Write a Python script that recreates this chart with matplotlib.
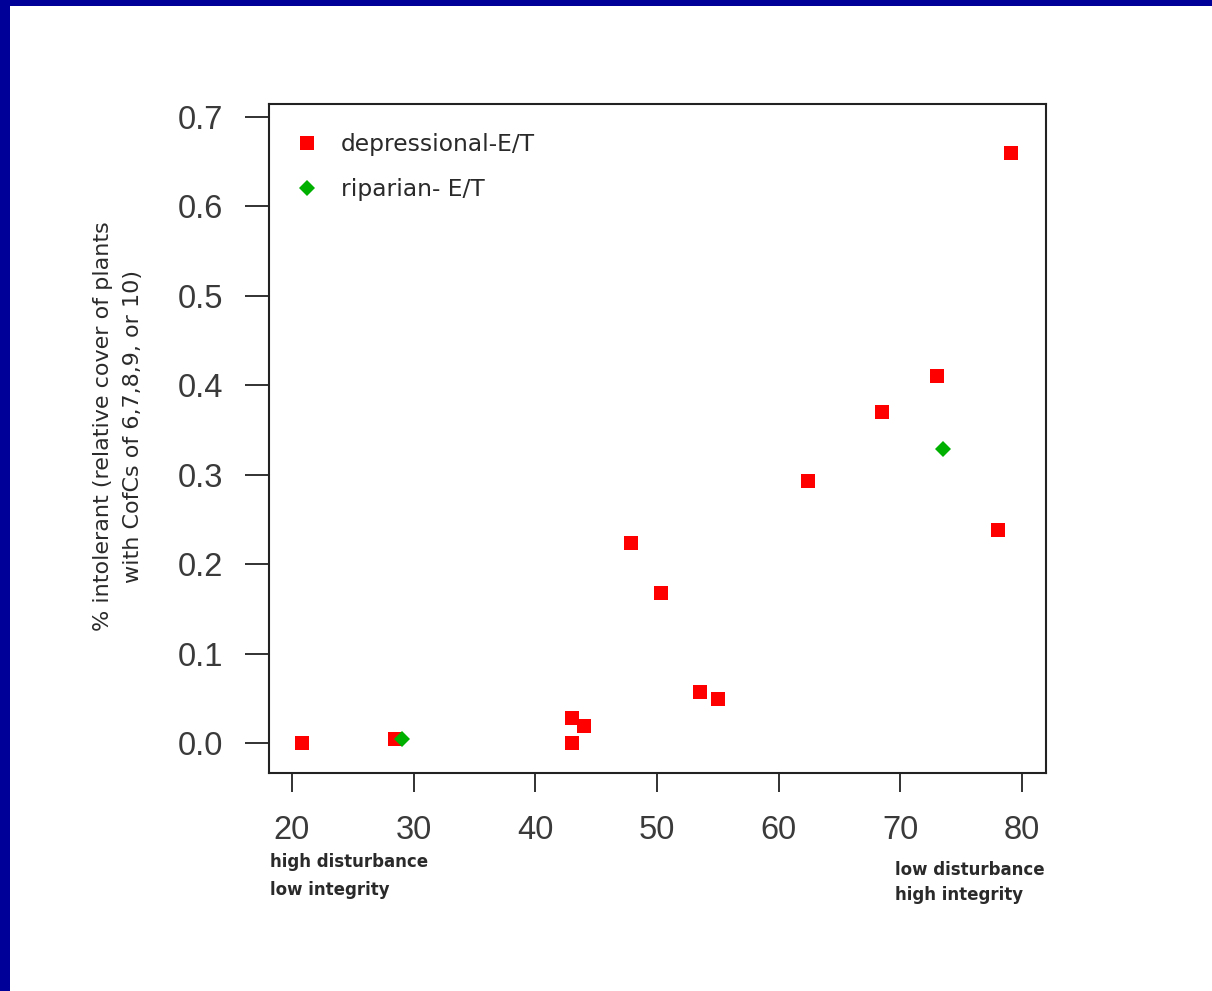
import matplotlib
matplotlib.use("Agg")
import matplotlib.pyplot as plt
from matplotlib.lines import Line2D
from matplotlib.patches import Rectangle

# Data
dep_x = [20.8, 28.5, 43.0, 43.0, 44.0, 47.9, 50.3, 53.5, 55.0, 62.4, 68.5, 73.0, 78.0, 79.1]
dep_y = [0.000, 0.005, 0.028, 0.000, 0.019, 0.224, 0.168, 0.057, 0.049, 0.293, 0.370, 0.410, 0.238, 0.660]
rip_x = [29.0, 73.5]
rip_y = [0.004, 0.329]
x_ticks = [20, 30, 40, 50, 60, 70, 80]
y_ticks = [0.0, 0.1, 0.2, 0.3, 0.4, 0.5, 0.6, 0.7]
y_ticklabels = ["0.0", "0.1", "0.2", "0.3", "0.4", "0.5", "0.6", "0.7"]
labels = ["depressional-E/T", "riparian- E/T"]
ylabel_text = "% intolerant (relative cover of plants\nwith CofCs of 6,7,8,9, or 10)"
left_note = ["high disturbance", "low integrity"]
right_note = ["low disturbance", "high integrity"]

plt.rcParams['font.family'] = ['Liberation Sans', 'DejaVu Sans']

W, H = 1212, 991
fig = plt.figure(figsize=(W / 100, H / 100), dpi=100)
fig.patch.set_facecolor('white')
# blue border top and left
fig.add_artist(Rectangle((0, 1 - 6 / H), 1, 6 / H, transform=fig.transFigure,
                         facecolor='#000099', edgecolor='none'))
fig.add_artist(Rectangle((0, 0), 10 / W, 1, transform=fig.transFigure,
                         facecolor='#000099', edgecolor='none'))

ax = fig.add_axes([269 / W, 1 - 773 / H, (1046 - 269) / W, (773 - 104) / H])
ax.plot(dep_x, dep_y, linestyle='none', marker='s', markersize=9.5,
        color='#ff0000', markeredgewidth=0)
ax.plot(rip_x, rip_y, linestyle='none', marker='D', markersize=8.3,
        color='#00b000', markeredgewidth=0)

ax.set_xlim(18.11, 81.97)
ax.set_ylim(-0.0335, 0.7145)
ax.set_xticks(x_ticks)
ax.set_yticks(y_ticks)
ax.set_yticklabels(y_ticklabels)
ax.tick_params(axis='x', length=14, width=1.3, pad=16, labelsize=23.5,
               colors='#222222', labelcolor='#3a3a3a')
ax.tick_params(axis='y', length=17, width=1.3, pad=16, labelsize=23.5,
               colors='#222222', labelcolor='#3a3a3a')
for sp in ax.spines.values():
    sp.set_linewidth(1.5)
    sp.set_color('#222222')

fig.text(118 / W, 1 - 426 / H, ylabel_text, rotation=90, ha='center', va='center',
         multialignment='center', fontsize=16, family='DejaVu Sans',
         linespacing=1.65, color='#2a2a2a')

handles = [Line2D([], [], linestyle='none', marker='s', markersize=9.5, color='#ff0000', markeredgewidth=0),
           Line2D([], [], linestyle='none', marker='D', markersize=8.3, color='#00b000', markeredgewidth=0)]
leg = ax.legend(handles, labels, loc='upper left', bbox_to_anchor=(0.013, 0.981), frameon=False,
                prop={'family': 'DejaVu Sans', 'size': 16.8}, handlelength=1.0,
                handletextpad=0.95, labelspacing=0.95, borderaxespad=0.3)
for t in leg.get_texts():
    t.set_color('#2a2a2a')

note_kw = dict(fontsize=12, family='DejaVu Sans', weight='bold', ha='left',
               va='baseline', color='#2a2a2a')
fig.text(270 / W, 1 - 867 / H, left_note[0], **note_kw)
fig.text(270 / W, 1 - 895 / H, left_note[1], **note_kw)
fig.text(895 / W, 1 - 875 / H, right_note[0], **note_kw)
fig.text(895 / W, 1 - 900 / H, right_note[1], **note_kw)

fig.savefig("out.png", dpi=100, facecolor='white')
